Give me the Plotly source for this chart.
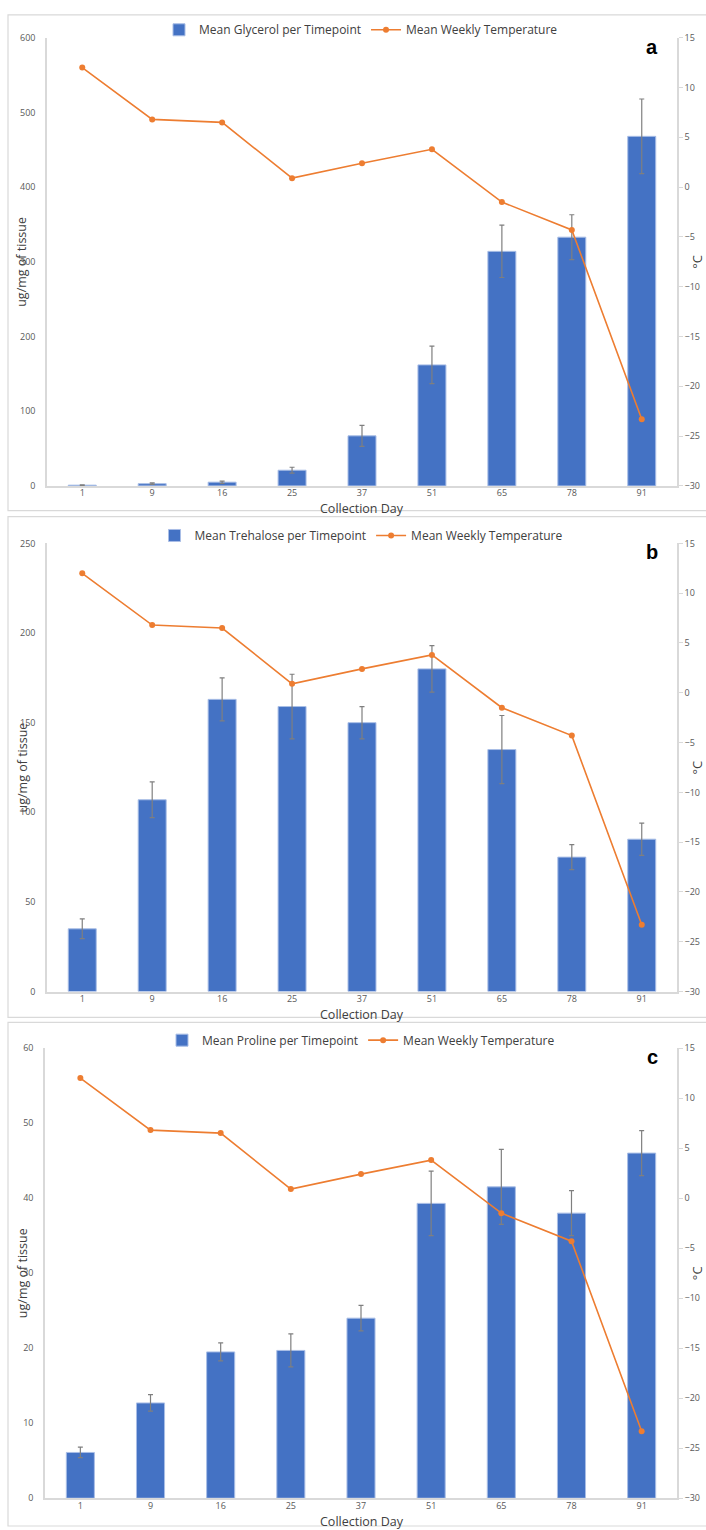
import plotly.graph_objects as go

# Collection days (category labels on the x axis)
days = ["1", "9", "16", "25", "37", "51", "65", "78", "91"]

# Mean weekly temperature (°C), shared by all three panels
temperature = [12.0, 6.8, 6.5, 0.9, 2.4, 3.8, -1.5, -4.3, -23.3]

# Panel a: glycerol (ug/mg of tissue)
glycerol = [1, 3, 5, 21, 67, 162, 314, 333, 468]
glycerol_err = [0.5, 1, 1.5, 4, 14, 25, 35, 30, 50]

# Panel b: trehalose (ug/mg of tissue)
trehalose = [35, 107, 163, 159, 150, 180, 135, 75, 85]
trehalose_err = [5.5, 10, 12, 18, 9, 13, 19, 7, 9]

# Panel c: proline (ug/mg of tissue)
proline = [6.1, 12.7, 19.5, 19.7, 24.0, 39.3, 41.5, 38.0, 46.0]
proline_err = [0.7, 1.1, 1.2, 2.2, 1.7, 4.3, 5.0, 3.0, 3.0]

W, H = 706, 1530
BLUE = "#4472C4"
ORANGE = "#ED7D31"
AXIS = "#D9D9D9"
TICK = "#595959"
TEXT = "#404040"
FONT = "Open Sans"


def py(px):
    return 1 - px / H


def px_x(px):
    return px / W


panels = [
    # name, values, errors, y max, tick step, plot top/bottom px, plot left px, label
    ("Mean Glycerol per Timepoint", glycerol, glycerol_err, 600, 100, 31, 483, 47, "a"),
    ("Mean Trehalose per Timepoint", trehalose, trehalose_err, 250, 50, 541, 993, 47, "b"),
    ("Mean Proline per Timepoint", proline, proline_err, 60, 10, 1050, 1504, 45, "c"),
]
frames = [(8, 508), (514, 1019), (1024, 1532)]

fig = go.Figure()
layout = {}
annotations = []
shapes = []
right_px = 677


def label(text, x, y, size, color=TEXT, angle=0, family=FONT):
    return dict(text=text, x=px_x(x), y=py(y), xref="paper", yref="paper",
                xanchor="center", yanchor="middle", textangle=angle,
                showarrow=False, font=dict(family=family, size=size, color=color))


for i, (name, vals, errs, ymax, step, top, bot, left, lab) in enumerate(panels):
    xa = "x" if i == 0 else f"x{i + 1}"
    ya_l = "y" if i == 0 else f"y{2 * i + 1}"
    ya_r = f"y{2 * i + 2}"
    leg = "legend" if i == 0 else f"legend{i + 1}"

    fig.add_trace(go.Bar(
        x=days, y=vals, name=name, xaxis=xa, yaxis=ya_l, legend=leg,
        marker=dict(color=BLUE, line=dict(color="#A9BEE6", width=1)),
        error_y=dict(type="data", array=errs, visible=True,
                     color="#7F7F7F", thickness=1.2, width=2.5),
    ))
    fig.add_trace(go.Scatter(
        x=days, y=temperature, name="Mean Weekly Temperature",
        xaxis=xa, yaxis=ya_r, legend=leg, mode="lines+markers",
        line=dict(color=ORANGE, width=1.6),
        marker=dict(color=ORANGE, size=6),
    ))

    xkey = "xaxis" if i == 0 else f"xaxis{i + 1}"
    ylkey = "yaxis" if i == 0 else f"yaxis{2 * i + 1}"
    yrkey = f"yaxis{2 * i + 2}"
    dom_y = [py(bot), py(top)]

    layout[xkey] = dict(
        domain=[px_x(left), px_x(right_px)], anchor=ya_l,
        type="category", showline=True, linecolor=AXIS, linewidth=1.5,
        showgrid=False, zeroline=False, ticks="",
        tickfont=dict(family=FONT, size=9, color=TICK),
        ticklabelstandoff=-2,
    )
    layout[ylkey] = dict(
        domain=dom_y, anchor=xa, range=[0, ymax], dtick=step,
        showline=True, linecolor=AXIS, linewidth=1.5,
        showgrid=False, zeroline=False, ticks="",
        tickfont=dict(family=FONT, size=9, color=TICK),
        ticklabelstandoff=8,
    )
    layout[yrkey] = dict(
        overlaying=ya_l, anchor=xa, side="right", range=[-30, 15], dtick=5,
        showline=True, linecolor=AXIS, linewidth=1.5,
        showgrid=False, zeroline=False, ticks="outside", ticklen=4,
        tickcolor=AXIS, tickfont=dict(family=FONT, size=9, color=TICK),
    )
    layout[leg] = dict(
        orientation="h", x=361 / W, xanchor="center",
        y=py(top - 8), yanchor="middle", bgcolor="rgba(0,0,0,0)",
        font=dict(family=FONT, size=12, color=TEXT), itemwidth=30,
        traceorder="normal",
    )

    mid = (top + bot) / 2
    annotations += [
        label("ug/mg of tissue", 22, mid, 12.5, angle=-90),
        label("°C", 697, mid, 13, angle=-90),
        label("Collection Day", 362, bot + 23, 12.5),
        label(f"<b>{lab}</b>", 652, top + 9, 20, color="#000000", family="Liberation Sans"),
    ]

for (ft, fb) in frames:
    shapes.append(dict(type="rect", xref="paper", yref="paper",
                       x0=px_x(8), x1=px_x(712), y0=py(fb), y1=py(ft),
                       line=dict(color="#D9D9D9", width=1.2), layer="below"))

fig.update_layout(
    width=W, height=H, margin=dict(l=0, r=0, t=0, b=0),
    paper_bgcolor="white", plot_bgcolor="rgba(0,0,0,0)",
    bargap=0.6, showlegend=True,
    annotations=annotations, shapes=shapes,
    **layout,
)

fig.write_html("out.html")
